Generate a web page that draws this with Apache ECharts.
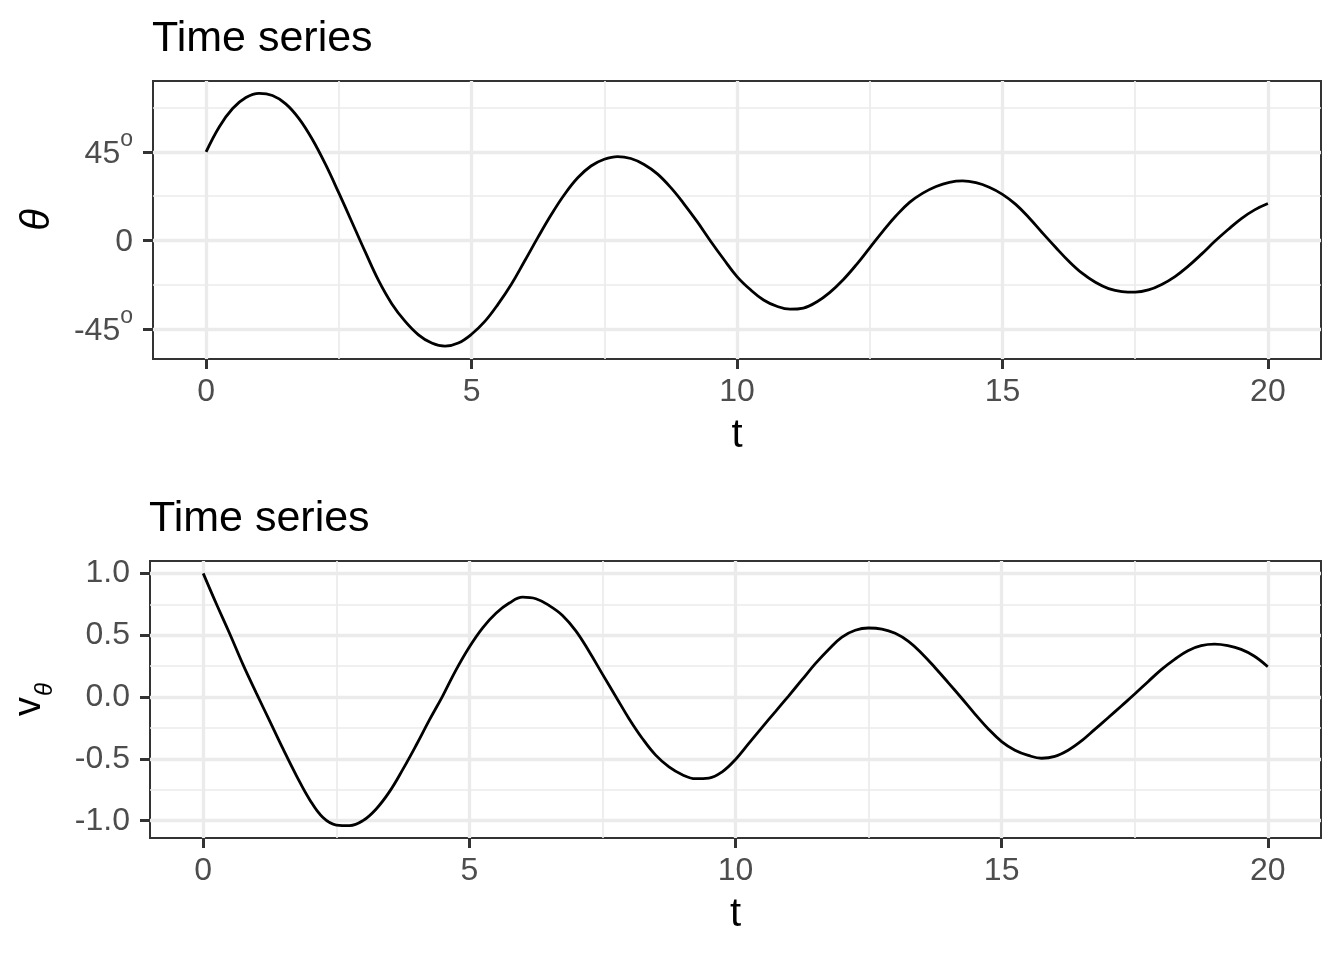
<!DOCTYPE html>
<html>
<head>
<meta charset="utf-8">
<script src="https://cdn.jsdelivr.net/npm/echarts@6/dist/echarts.min.js"></script>
<style>
  html, body { margin: 0; padding: 0; background: #ffffff; }
  #chart { width: 1344px; height: 960px; }
</style>
</head>
<body>
<div id="chart"></div>
<script>
const tValues = [0, 0.25, 0.5, 0.75, 1, 1.25, 1.5, 1.75, 2, 2.25, 2.5, 2.75, 3, 3.25, 3.5, 3.75, 4, 4.25, 4.5, 4.75, 5, 5.25, 5.5, 5.75, 6, 6.25, 6.5, 6.75, 7, 7.25, 7.5, 7.75, 8, 8.25, 8.5, 8.75, 9, 9.25, 9.5, 9.75, 10, 10.25, 10.5, 10.75, 11, 11.25, 11.5, 11.75, 12, 12.25, 12.5, 12.75, 13, 13.25, 13.5, 13.75, 14, 14.25, 14.5, 14.75, 15, 15.25, 15.5, 15.75, 16, 16.25, 16.5, 16.75, 17, 17.25, 17.5, 17.75, 18, 18.25, 18.5, 18.75, 19, 19.25, 19.5, 19.75, 20];

// angle theta, in degrees
const thetaDeg = [45, 57.8, 67.0, 72.6, 74.7, 73.6, 69.4, 61.9, 51.4, 38.6, 24.1, 9.1, -6.0, -20.5, -32.3, -41.2, -48.0, -52.2, -53.8, -52.2, -47.7, -41.2, -32.4, -22.3, -10.5, 1.5, 13.0, 23.3, 31.8, 37.8, 41.2, 42.6, 41.6, 38.6, 33.8, 26.9, 18.6, 9.5, -0.3, -9.6, -18.4, -25.0, -30.3, -33.5, -35.0, -34.4, -31.3, -26.4, -20.0, -12.3, -3.8, 4.7, 12.6, 19.3, 24.0, 27.4, 29.5, 30.2, 29.3, 27.0, 23.4, 18.3, 11.5, 3.9, -3.5, -10.6, -16.7, -21.3, -24.5, -26.0, -26.3, -25.2, -22.4, -18.4, -13.1, -7.0, -0.5, 5.5, 11.1, 15.5, 18.7];

// angular velocity v_theta
const vTheta = [1.0, 0.75, 0.51, 0.26, 0.03, -0.195, -0.42, -0.635, -0.83, -0.975, -1.035, -1.04, -1.0, -0.905, -0.765, -0.585, -0.39, -0.185, 0.01, 0.22, 0.405, 0.56, 0.678, 0.76, 0.808, 0.795, 0.74, 0.66, 0.535, 0.368, 0.185, 0.005, -0.175, -0.335, -0.47, -0.565, -0.628, -0.66, -0.655, -0.605, -0.505, -0.375, -0.245, -0.118, 0.01, 0.14, 0.27, 0.385, 0.485, 0.54, 0.558, 0.55, 0.515, 0.45, 0.352, 0.237, 0.115, -0.01, -0.138, -0.258, -0.36, -0.43, -0.472, -0.495, -0.48, -0.43, -0.355, -0.262, -0.168, -0.072, 0.024, 0.124, 0.222, 0.305, 0.375, 0.415, 0.427, 0.415, 0.385, 0.33, 0.245];

const xMajor = [0, 5, 10, 15, 20];
const xMinor = [2.5, 7.5, 12.5, 17.5];
const thetaMajor = [-45, 0, 45];
const thetaMinor = [-22.5, 22.5, 67.5];
const vMajor = [-1, -0.5, 0, 0.5, 1];
const vMinor = [-0.75, -0.25, 0.25, 0.75];

const titleText = 'Time series';
const xName = 't';

// ---- styling ----
const FONT = '"Liberation Sans", Arial, Helvetica, sans-serif';
const GRID_COL = '#EBEBEB';
const TICK_COL = '#333333';
const LABEL_COL = '#4D4D4D';
const MAJOR_W = 3.3, MINOR_W = 1.7;

function majorX(grid) {
  return {
    type: 'value', gridIndex: grid, min: -1, max: 21,
    axisLine: { show: false, onZero: false },
    axisTick: { show: true, customValues: xMajor, length: 10, inside: false,
      lineStyle: { color: TICK_COL, width: 3 } },
    axisLabel: { show: true, customValues: xMajor, margin: 17,
      color: LABEL_COL, fontSize: 32, fontFamily: FONT },
    splitLine: { show: true, lineStyle: { color: GRID_COL, width: MAJOR_W } },
    name: xName, nameLocation: 'middle', nameGap: 57,
    nameTextStyle: { fontSize: 40, color: '#000', fontFamily: FONT }
  };
}
function minorX(grid) {
  return {
    type: 'value', gridIndex: grid, min: -1, max: 21,
    axisLine: { show: false, onZero: false },
    axisTick: { show: false, customValues: xMinor },
    axisLabel: { show: false },
    splitLine: { show: true, lineStyle: { color: GRID_COL, width: MINOR_W } }
  };
}

const option = {
  animation: false,
  backgroundColor: '#ffffff',
  title: [
    { text: titleText, left: 152, top: 18, padding: 0,
      textStyle: { fontSize: 43, fontWeight: 'normal', color: '#000', fontFamily: FONT } },
    { text: titleText, left: 149, top: 498, padding: 0,
      textStyle: { fontSize: 43, fontWeight: 'normal', color: '#000', fontFamily: FONT } }
  ],
  grid: [
    { left: 153, right: 23, top: 81, height: 278, show: true, borderColor: '#333333', borderWidth: 2,
      backgroundColor: 'transparent', outerBoundsMode: 'none', containLabel: false },
    { left: 150, right: 23, top: 561, height: 277, show: true, borderColor: '#333333', borderWidth: 2,
      backgroundColor: 'transparent', outerBoundsMode: 'none', containLabel: false }
  ],
  xAxis: [majorX(0), minorX(0), majorX(1), minorX(1)],
  yAxis: [
    {
      type: 'value', gridIndex: 0, min: -60.3, max: 81.0,
      axisLine: { show: false, onZero: false },
      axisTick: { show: true, customValues: thetaMajor, length: 10, lineStyle: { color: TICK_COL, width: 3 } },
      axisLabel: {
        show: true, customValues: thetaMajor, margin: 20,
        formatter: function (v) { return v === 0 ? '{z|0}' : '{n|' + v + '}{o|o}'; },
        rich: {
          z: { fontSize: 32, color: LABEL_COL, fontFamily: FONT, padding: [4, 0, 0, 0] },
          n: { fontSize: 32, lineHeight: 32, color: LABEL_COL, fontFamily: FONT, padding: [4, 0, 0, 0] },
          o: { fontSize: 23, lineHeight: 23, color: LABEL_COL, fontFamily: FONT, padding: [0, 0, 24, 0] }
        }
      },
      splitLine: { show: true, lineStyle: { color: GRID_COL, width: MAJOR_W } },
      name: 'θ', nameLocation: 'middle', nameRotate: 90, nameGap: 95,
      nameTextStyle: { fontSize: 40, fontStyle: 'italic', color: '#000', fontFamily: FONT }
    },
    {
      type: 'value', gridIndex: 0, min: -60.3, max: 81.0,
      axisLine: { show: false, onZero: false }, axisTick: { show: false, customValues: thetaMinor }, axisLabel: { show: false },
      splitLine: { show: true, lineStyle: { color: GRID_COL, width: MINOR_W } }
    },
    {
      type: 'value', gridIndex: 1, min: -1.14, max: 1.10,
      axisLine: { show: false, onZero: false },
      axisTick: { show: true, customValues: vMajor, length: 10, lineStyle: { color: TICK_COL, width: 3 } },
      axisLabel: {
        show: true, customValues: vMajor, margin: 20,
        formatter: function (v) { return v.toFixed(1); },
        color: LABEL_COL, fontSize: 32, fontFamily: FONT, padding: [4, 0, 0, 0]
      },
      splitLine: { show: true, lineStyle: { color: GRID_COL, width: MAJOR_W } },
      name: '{v|v}{s|θ}', nameLocation: 'middle', nameRotate: 90, nameGap: 97,
      nameTextStyle: {
        color: '#000', fontFamily: FONT,
        rich: {
          v: { fontSize: 38, lineHeight: 38, color: '#000', fontFamily: FONT, padding: [0, 0, 8, 0] },
          s: { fontSize: 24, lineHeight: 24, fontStyle: 'italic', color: '#000', fontFamily: FONT, padding: [22, 0, 0, 1] }
        }
      }
    },
    {
      type: 'value', gridIndex: 1, min: -1.14, max: 1.10,
      axisLine: { show: false, onZero: false }, axisTick: { show: false, customValues: vMinor }, axisLabel: { show: false },
      splitLine: { show: true, lineStyle: { color: GRID_COL, width: MINOR_W } }
    }
  ],
  series: [
    {
      type: 'line', xAxisIndex: 0, yAxisIndex: 0, z: 5,
      data: tValues.map(function (t, i) { return [t, thetaDeg[i]]; }),
      smooth: 0.4, showSymbol: false,
      lineStyle: { color: '#000000', width: 2.8 }
    },
    {
      type: 'line', xAxisIndex: 2, yAxisIndex: 2, z: 5,
      data: tValues.map(function (t, i) { return [t, vTheta[i]]; }),
      smooth: 0.4, showSymbol: false,
      lineStyle: { color: '#000000', width: 2.8 }
    }
  ]
};

const chart = echarts.init(document.getElementById('chart'), null, { renderer: 'canvas' });
chart.setOption(option);
</script>
</body>
</html>
